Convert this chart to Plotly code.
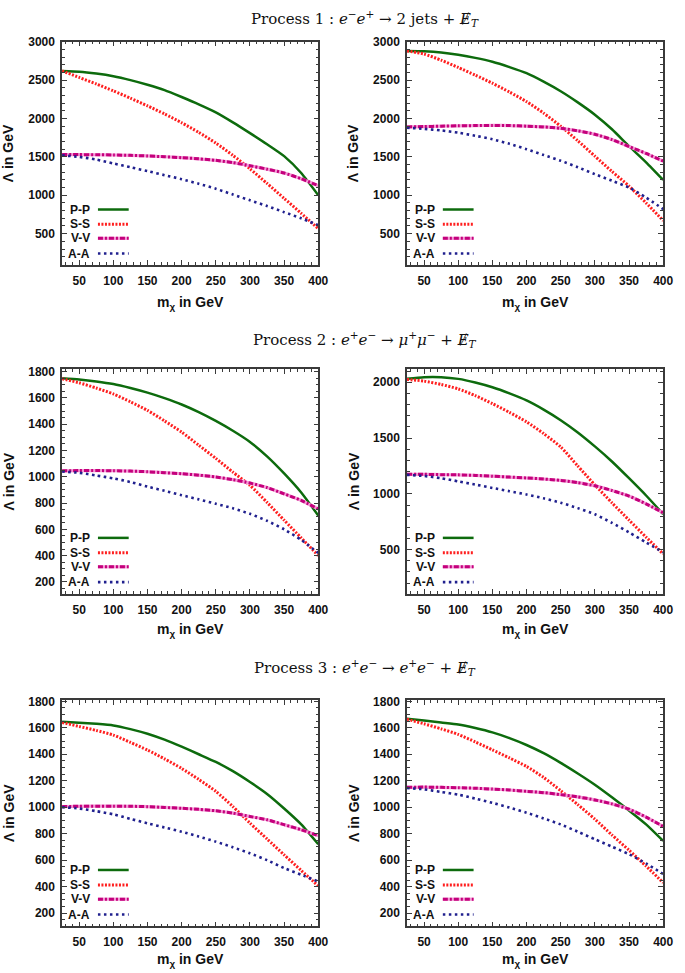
import plotly.graph_objects as go

# ---------------- data ----------------
MCHI = [25, 50, 75, 100, 125, 150, 175, 200, 225, 250, 275, 300, 325, 350, 375, 400]
X_TICKS = [50, 100, 150, 200, 250, 300, 350, 400]
SERIES_NAMES = ["P-P", "S-S", "V-V", "A-A"]

# Process 1, left panel
p1l_PP = [2620, 2610, 2585, 2550, 2500, 2440, 2370, 2280, 2185, 2080, 1950, 1810, 1665, 1510, 1290, 1000]
p1l_SS = [2620, 2535, 2450, 2360, 2265, 2165, 2060, 1945, 1820, 1680, 1520, 1345, 1155, 960, 765, 565]
p1l_VV = [1530, 1530, 1528, 1525, 1520, 1512, 1502, 1490, 1475, 1455, 1425, 1385, 1340, 1290, 1215, 1125]
p1l_AA = [1520, 1500, 1465, 1415, 1365, 1315, 1262, 1210, 1150, 1085, 1010, 935, 860, 780, 700, 610]
# Process 1, right panel
p1r_PP = [2880, 2875, 2860, 2830, 2790, 2740, 2670, 2590, 2480, 2355, 2210, 2050, 1860, 1640, 1430, 1200]
p1r_SS = [2880, 2840, 2760, 2665, 2565, 2460, 2345, 2220, 2070, 1900, 1710, 1510, 1310, 1120, 900, 670]
p1r_VV = [1890, 1895, 1900, 1905, 1908, 1910, 1908, 1900, 1890, 1872, 1840, 1795, 1725, 1635, 1545, 1445]
p1r_AA = [1880, 1865, 1845, 1815, 1775, 1730, 1670, 1600, 1525, 1450, 1365, 1275, 1190, 1100, 970, 820]
# Process 2, left panel
p2l_PP = [1750, 1740, 1725, 1705, 1675, 1640, 1598, 1550, 1492, 1425, 1350, 1265, 1155, 1025, 880, 705]
p2l_SS = [1745, 1715, 1675, 1630, 1570, 1505, 1425, 1340, 1240, 1140, 1035, 935, 805, 670, 535, 400]
p2l_VV = [1045, 1047, 1047, 1046, 1043, 1038, 1031, 1023, 1012, 998, 978, 952, 918, 870, 820, 755]
p2l_AA = [1040, 1030, 1010, 988, 960, 925, 893, 860, 828, 795, 760, 718, 665, 600, 520, 420]
# Process 2, right panel
p2r_PP = [2030, 2045, 2045, 2030, 1998, 1955, 1900, 1837, 1755, 1660, 1550, 1425, 1290, 1140, 985, 818]
p2r_SS = [2025, 2010, 1980, 1940, 1880, 1808, 1730, 1645, 1540, 1420, 1250, 1080, 920, 765, 612, 462]
p2r_VV = [1175, 1175, 1172, 1170, 1165, 1158, 1150, 1142, 1133, 1120, 1100, 1072, 1030, 980, 910, 830]
p2r_AA = [1170, 1160, 1140, 1112, 1083, 1053, 1024, 994, 960, 920, 872, 817, 740, 655, 565, 475]
# Process 3, left panel
p3l_PP = [1645, 1638, 1630, 1618, 1590, 1555, 1510, 1457, 1400, 1342, 1272, 1190, 1100, 990, 870, 720]
p3l_SS = [1640, 1610, 1580, 1545, 1490, 1432, 1365, 1293, 1210, 1120, 1005, 880, 760, 640, 522, 405]
p3l_VV = [1005, 1007, 1008, 1008, 1007, 1004, 998, 992, 984, 973, 955, 930, 905, 868, 830, 785]
p3l_AA = [1000, 990, 970, 946, 912, 878, 847, 815, 778, 740, 697, 652, 600, 540, 490, 438]
# Process 3, right panel
p3r_PP = [1668, 1655, 1640, 1625, 1598, 1565, 1522, 1470, 1408, 1335, 1255, 1170, 1075, 975, 870, 745]
p3r_SS = [1665, 1630, 1592, 1550, 1493, 1433, 1372, 1308, 1225, 1125, 1020, 910, 790, 675, 555, 430]
p3r_VV = [1150, 1152, 1150, 1147, 1143, 1137, 1130, 1120, 1110, 1095, 1078, 1055, 1025, 985, 925, 855]
p3r_AA = [1145, 1135, 1115, 1095, 1065, 1033, 997, 958, 915, 870, 815, 758, 702, 645, 575, 495]

PANELS = [
    [p1l_PP, p1l_SS, p1l_VV, p1l_AA],
    [p1r_PP, p1r_SS, p1r_VV, p1r_AA],
    [p2l_PP, p2l_SS, p2l_VV, p2l_AA],
    [p2r_PP, p2r_SS, p2r_VV, p2r_AA],
    [p3l_PP, p3l_SS, p3l_VV, p3l_AA],
    [p3r_PP, p3r_SS, p3r_VV, p3r_AA],
]
Y_RANGES = [[90, 3000], [90, 3000], [110, 1817], [105, 2115], [100, 1810], [100, 1810]]
Y_DTICKS = [500, 500, 200, 500, 200, 200]
Y_MINOR = [100, 100, 50, 100, 50, 50]

TITLES = [
    "Process 1 : <i>e</i><sup>−</sup><i>e</i><sup>+</sup> → 2 jets + <i>Ɇ</i><sub><i>T</i></sub>",
    "Process 2 : <i>e</i><sup>+</sup><i>e</i><sup>−</sup> → <i>μ</i><sup>+</sup><i>μ</i><sup>−</sup> + <i>Ɇ</i><sub><i>T</i></sub>",
    "Process 3 : <i>e</i><sup>+</sup><i>e</i><sup>−</sup> → <i>e</i><sup>+</sup><i>e</i><sup>−</sup> + <i>Ɇ</i><sub><i>T</i></sub>",
]

# ---------------- styles ----------------
W, H = 685, 973
GREEN = "#0d6b0d"
RED = "#ff1f1f"
MAG = "#c4007c"
PINK = "#f49ad6"
BLUE = "#20208e"
STYLES = [
    dict(color=GREEN, width=2.5, dash="solid"),
    dict(color=RED, width=3, dash="2px,1.5px"),
    dict(color=MAG, width=3, dash="5px,2px,2px,2px"),
    dict(color=BLUE, width=2.6, dash="2.5px,3.5px"),
]

COL_PX = [(63, 323), (413, 673)]
ROW_PX = [(35, 260), (365, 591), (698, 926)]
TITLE_Y = [12, 335, 665]
XTITLE_Y = [298, 628, 960]

FONT = "Liberation Sans, Arial, sans-serif"

fig = go.Figure()
layout = dict(
    width=W, height=H, margin=dict(l=0, r=0, t=0, b=0),
    paper_bgcolor="white", plot_bgcolor="white", showlegend=False,
    annotations=[], shapes=[],
)

for i, data in enumerate(PANELS):
    r, c = divmod(i, 2)
    n = "" if i == 0 else str(i + 1)
    xa, ya = "x" + n, "y" + n
    x0, x1 = COL_PX[c]
    y0, y1 = ROW_PX[r]
    axcommon = dict(
        showgrid=False, zeroline=False, showline=True, linecolor="#3a3a3a", linewidth=1.5,
        mirror="ticks", ticks="inside", ticklen=5, tickcolor="#3a3a3a", tickwidth=1,
        tickfont=dict(family=FONT, size=12, color="#111", weight="bold"),
    )
    layout["xaxis" + n] = dict(
        axcommon, domain=[x0 / W, x1 / W], anchor=ya, range=[25, 400],
        tickvals=X_TICKS, ticklabelstandoff=4,
        minor=dict(ticks="inside", ticklen=3, dtick=10, tickcolor="#3a3a3a"),
    )
    layout["yaxis" + n] = dict(
        axcommon, domain=[1 - y1 / H, 1 - y0 / H], anchor=xa, range=Y_RANGES[i],
        dtick=Y_DTICKS[i], tick0=0, ticklabelstandoff=3,
        minor=dict(ticks="inside", ticklen=3, dtick=Y_MINOR[i], tickcolor="#3a3a3a"),
    )
    for k, (vals, st) in enumerate(zip(data, STYLES)):
        if k == 2:
            fig.add_trace(go.Scatter(x=MCHI, y=vals, mode="lines", xaxis=xa, yaxis=ya,
                                     line=dict(color=PINK, width=3.2, shape="spline", smoothing=0.6),
                                     hoverinfo="skip"))
        fig.add_trace(go.Scatter(x=MCHI, y=vals, mode="lines", name=SERIES_NAMES[k],
                                 xaxis=xa, yaxis=ya,
                                 line=dict(st, shape="spline", smoothing=0.6)))
    # legend (text left, line sample right)
    leg_y = [0.249, 0.183, 0.12, 0.052]
    for k, st in enumerate(STYLES):
        layout["annotations"].append(dict(
            xref=xa + " domain", yref=ya + " domain", x=0.118, y=leg_y[k],
            xanchor="right", yanchor="middle", showarrow=False, text=SERIES_NAMES[k],
            font=dict(family=FONT, size=12, color="#111", weight="bold")))
        if k == 2:
            layout["shapes"].append(dict(type="line", xref=xa + " domain", yref=ya + " domain",
                                         x0=0.14, x1=0.26, y0=leg_y[k], y1=leg_y[k],
                                         line=dict(color=PINK, width=3.2)))
        layout["shapes"].append(dict(type="line", xref=xa + " domain", yref=ya + " domain",
                                     x0=0.14, x1=0.26, y0=leg_y[k], y1=leg_y[k],
                                     line=dict(color=st["color"], width=st["width"], dash=st["dash"])))
    # axis titles
    layout["annotations"].append(dict(
        xref="paper", yref="paper", x=(x0 + x1) / 2 / W, y=1 - XTITLE_Y[r] / H,
        xanchor="center", yanchor="middle", showarrow=False,
        text="m<sub>χ</sub> in GeV", font=dict(family=FONT, size=14, color="#111", weight="bold")))
    layout["annotations"].append(dict(
        xref="paper", yref="paper", x=(x0 - 54) / W, y=1 - (y0 + y1) / 2 / H,
        xanchor="center", yanchor="middle", showarrow=False, textangle=-90,
        text="Λ in GeV", font=dict(family=FONT, size=14, color="#111", weight="bold")))

for r in range(3):
    layout["annotations"].append(dict(
        xref="paper", yref="paper", x=370 / W, y=1 - TITLE_Y[r] / H,
        xanchor="center", yanchor="middle", showarrow=False, text=TITLES[r],
        font=dict(family="DejaVu Serif, Liberation Serif, serif", size=15, color="#111")))

fig.update_layout(**layout)
fig.write_html(
    "out.html",
    config={"displayModeBar": False},
    post_script="document.body.style.margin='0';document.body.style.overflow='hidden';"
                "document.documentElement.style.overflow='hidden';",
)
